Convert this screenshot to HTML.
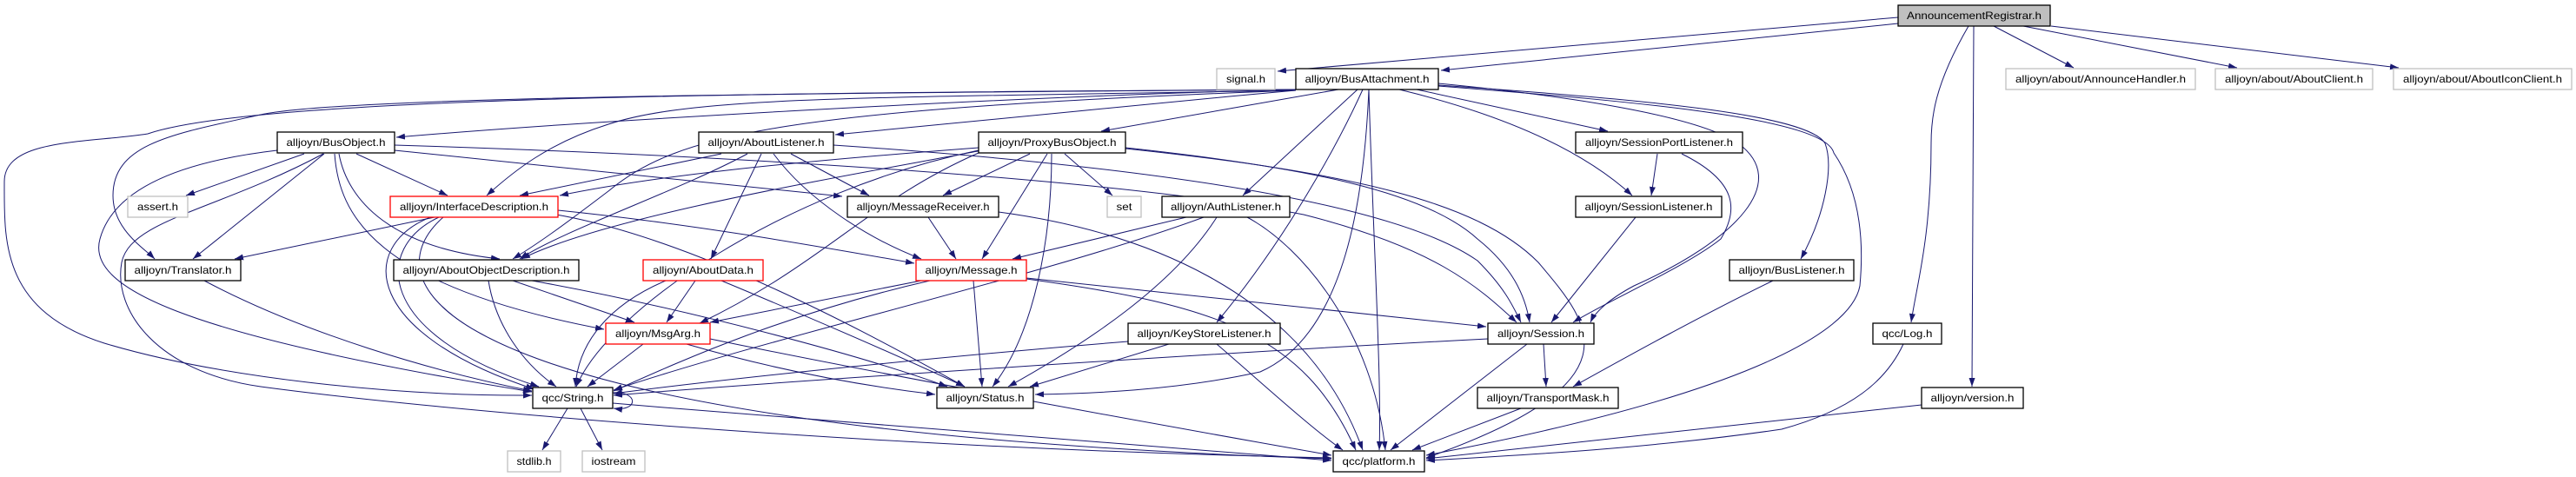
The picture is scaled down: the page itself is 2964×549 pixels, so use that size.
<!DOCTYPE html>
<html><head><meta charset="utf-8"><style>
html,body{margin:0;padding:0;background:#fff;}
svg{display:block;}
text{font-family:"Liberation Sans",Helvetica,sans-serif;font-size:12px;fill:#000;}
</style></head><body>
<svg width="2964" height="549" viewBox="0 0 2964 549" xmlns="http://www.w3.org/2000/svg">
<defs><marker id="a" viewBox="0 0 10 7" refX="10" refY="3.5" markerWidth="10" markerHeight="7" markerUnits="userSpaceOnUse" orient="auto"><path d="M0,0 L10,3.5 L0,7z" fill="#191970"/></marker></defs>
<g fill="none" stroke="#191970" stroke-width="1" marker-end="url(#a)">
<path d="M2184,20 L1470,82"/>
<path d="M2184,27 L1658,81"/>
<path d="M2294,30 L2386,78"/>
<path d="M2328,30 L2574,78"/>
<path d="M2360,30 L2760,78"/>
<path d="M2265,30 C2225,99 2222,137 2222,165 C2222,275 2205,329 2199,371"/>
<path d="M2271,30 L2269,445"/>
<path d="M1491,103 C1200,110 700,137 456,158"/>
<path d="M1491,104 C1300,121 1100,143 961,155"/>
<path d="M1491,104 C1000,113 800,110 700,143 C630,165 590,198 560,225"/>
<path d="M1491,104 C900,126 780,154 700,220 C650,258 620,280 590,298"/>
<path d="M1491,103 C1000,107 400,110 300,132 C200,154 130,165 130,225 C130,264 165,285 178,298"/>
<path d="M1491,103 C900,107 300,110 170,154 C100,165 5,159 5,209 C5,275 0,357 120,395 C250,434 450,456 612,455"/>
<path d="M1540,103 L1267,151"/>
<path d="M1562,103 L1430,225"/>
<path d="M1568,103 C1540,165 1480,275 1400,371"/>
<path d="M1575,103 C1570,220 1550,384 1450,428 C1350,450 1250,453 1191,454"/>
<path d="M1575,103 C1580,275 1590,439 1587,518"/>
<path d="M1630,103 L1850,151"/>
<path d="M1610,103 C1750,137 1830,181 1878,225"/>
<path d="M1655,96 C1800,110 1950,132 2000,165 C2060,209 2000,275 1880,329 C1850,345 1835,360 1830,371"/>
<path d="M1655,98 C1900,115 2080,132 2100,165 C2110,192 2100,247 2072,298"/>
<path d="M1655,99 C1900,118 2100,137 2110,176 C2140,220 2145,275 2140,329 C2130,384 2000,456 1641,524"/>
<path d="M350,177 L214,225"/>
<path d="M410,177 L515,225"/>
<path d="M373,177 L222,298"/>
<path d="M319,173 C200,187 130,220 115,275 C100,329 200,384 612,451"/>
<path d="M372,177 C250,242 150,253 140,302 C130,357 180,428 300,445 C500,472 1000,516 1532,527"/>
<path d="M390,177 C400,231 450,285 575,298"/>
<path d="M385,177 C390,247 430,329 695,379"/>
<path d="M454,173 L969,226"/>
<path d="M454,167 C900,181 1300,209 1500,247 C1650,285 1700,329 1745,371"/>
<path d="M830,177 L598,225"/>
<path d="M860,177 C780,220 650,264 598,298"/>
<path d="M876,177 L818,298"/>
<path d="M890,177 C930,231 1000,275 1060,298"/>
<path d="M910,177 L1000,225"/>
<path d="M959,167 C1300,190 1600,230 1700,300 C1730,330 1740,350 1750,371"/>
<path d="M1126,170 C900,187 750,203 644,225"/>
<path d="M1130,173 C1000,198 700,247 600,298"/>
<path d="M1185,177 L1085,225"/>
<path d="M1205,177 L1130,298"/>
<path d="M1225,177 L1280,225"/>
<path d="M1210,177 C1210,275 1190,384 1142,445"/>
<path d="M1126,173 C900,220 700,357 663,445"/>
<path d="M1126,176 C1000,231 950,302 805,372"/>
<path d="M1295,170 C1500,192 1640,220 1700,275 C1740,307 1755,340 1760,371"/>
<path d="M1295,171 C1550,198 1700,231 1770,302 C1830,373 1890,439 1641,527"/>
<path d="M500,250 L270,298"/>
<path d="M505,250 C430,285 430,384 620,445"/>
<path d="M495,250 C410,285 420,384 615,448"/>
<path d="M510,250 C420,329 500,494 1532,528"/>
<path d="M642,242 C800,258 950,285 1052,303"/>
<path d="M640,247 C800,275 1000,384 1110,445"/>
<path d="M1068,250 L1100,298"/>
<path d="M1149,244 C1300,264 1500,329 1568,518"/>
<path d="M1365,250 L1165,298"/>
<path d="M1385,250 C1200,318 900,384 706,449"/>
<path d="M1400,250 C1350,329 1250,395 1160,445"/>
<path d="M1435,250 C1500,285 1580,384 1594,518"/>
<path d="M1907,177 L1900,225"/>
<path d="M1935,177 C2000,209 2000,242 1980,275 C1940,307 1850,346 1810,371"/>
<path d="M1882,250 L1785,371"/>
<path d="M562,323 C570,373 600,417 640,445"/>
<path d="M590,323 L730,371"/>
<path d="M612,323 C800,357 1000,412 1090,445"/>
<path d="M766,323 C700,351 665,395 662,445"/>
<path d="M800,323 L767,371"/>
<path d="M830,323 C950,373 1050,417 1110,445"/>
<path d="M1060,323 L817,371"/>
<path d="M1070,323 C900,362 780,417 706,450"/>
<path d="M1120,323 L1130,445"/>
<path d="M1181,320 L1710,376"/>
<path d="M1181,321 C1400,351 1500,384 1560,518"/>
<path d="M235,323 C350,384 500,428 612,450"/>
<path d="M740,396 L676,445"/>
<path d="M790,396 C900,428 1000,445 1076,454"/>
<path d="M817,390 C1000,428 1300,483 1532,524"/>
<path d="M1298,393 C1100,409 850,434 706,453"/>
<path d="M1345,396 L1185,445"/>
<path d="M1400,396 C1450,439 1510,494 1545,518"/>
<path d="M1712,390 C1400,406 900,439 706,455"/>
<path d="M1776,396 L1779,445"/>
<path d="M1757,396 L1600,518"/>
<path d="M653,470 L624,518"/>
<path d="M668,470 L693,518"/>
<path d="M705,464 C1000,489 1300,511 1532,530"/>
<path d="M705,452 C735,450 735,474 706,470"/>
<path d="M1750,470 L1625,518"/>
<path d="M2040,323 C1960,362 1880,406 1810,445"/>
<path d="M2190,396 C2170,439 2130,472 2050,494 C1900,516 1750,524 1641,530"/>
<path d="M2211,466 L1641,528"/>
</g>
<g stroke-width="1.3" text-anchor="middle">
<rect x="2184" y="6" width="175" height="24" fill="#bfbfbf" stroke="#000"/><text x="2271.5" y="22" textLength="155" lengthAdjust="spacingAndGlyphs">AnnouncementRegistrar.h</text>
<rect x="1400" y="79" width="67" height="24" fill="#fff" stroke="#bfbfbf"/><text x="1433.5" y="95" textLength="45" lengthAdjust="spacingAndGlyphs">signal.h</text>
<rect x="1491" y="79" width="164" height="24" fill="#fff" stroke="#000"/><text x="1573" y="95" textLength="143" lengthAdjust="spacingAndGlyphs">alljoyn/BusAttachment.h</text>
<rect x="2308" y="79" width="218" height="24" fill="#fff" stroke="#bfbfbf"/><text x="2417" y="95" textLength="196" lengthAdjust="spacingAndGlyphs">alljoyn/about/AnnounceHandler.h</text>
<rect x="2549" y="79" width="181" height="24" fill="#fff" stroke="#bfbfbf"/><text x="2639.5" y="95" textLength="159" lengthAdjust="spacingAndGlyphs">alljoyn/about/AboutClient.h</text>
<rect x="2754" y="79" width="205" height="24" fill="#fff" stroke="#bfbfbf"/><text x="2856.5" y="95" textLength="183" lengthAdjust="spacingAndGlyphs">alljoyn/about/AboutIconClient.h</text>
<rect x="319" y="152" width="135" height="24" fill="#fff" stroke="#000"/><text x="386.5" y="168" textLength="114" lengthAdjust="spacingAndGlyphs">alljoyn/BusObject.h</text>
<rect x="804" y="152" width="155" height="24" fill="#fff" stroke="#000"/><text x="881.5" y="168" textLength="134" lengthAdjust="spacingAndGlyphs">alljoyn/AboutListener.h</text>
<rect x="1126" y="152" width="169" height="24" fill="#fff" stroke="#000"/><text x="1210.5" y="168" textLength="148" lengthAdjust="spacingAndGlyphs">alljoyn/ProxyBusObject.h</text>
<rect x="1813" y="152" width="192" height="24" fill="#fff" stroke="#000"/><text x="1909" y="168" textLength="170" lengthAdjust="spacingAndGlyphs">alljoyn/SessionPortListener.h</text>
<rect x="147" y="226" width="69" height="24" fill="#fff" stroke="#bfbfbf"/><text x="181.5" y="242" textLength="47" lengthAdjust="spacingAndGlyphs">assert.h</text>
<rect x="449" y="226" width="193" height="24" fill="#fff" stroke="#f00"/><text x="545.5" y="242" textLength="171" lengthAdjust="spacingAndGlyphs">alljoyn/InterfaceDescription.h</text>
<rect x="975" y="226" width="174" height="24" fill="#fff" stroke="#000"/><text x="1062" y="242" textLength="153" lengthAdjust="spacingAndGlyphs">alljoyn/MessageReceiver.h</text>
<rect x="1274" y="226" width="39" height="24" fill="#fff" stroke="#bfbfbf"/><text x="1293.5" y="242" textLength="18" lengthAdjust="spacingAndGlyphs">set</text>
<rect x="1337" y="226" width="147" height="24" fill="#fff" stroke="#000"/><text x="1410.5" y="242" textLength="127" lengthAdjust="spacingAndGlyphs">alljoyn/AuthListener.h</text>
<rect x="1813" y="226" width="168" height="24" fill="#fff" stroke="#000"/><text x="1897" y="242" textLength="147" lengthAdjust="spacingAndGlyphs">alljoyn/SessionListener.h</text>
<rect x="144" y="299" width="133" height="24" fill="#fff" stroke="#000"/><text x="210.5" y="315" textLength="112" lengthAdjust="spacingAndGlyphs">alljoyn/Translator.h</text>
<rect x="453" y="299" width="213" height="24" fill="#fff" stroke="#000"/><text x="559.5" y="315" textLength="192" lengthAdjust="spacingAndGlyphs">alljoyn/AboutObjectDescription.h</text>
<rect x="740" y="299" width="138" height="24" fill="#fff" stroke="#f00"/><text x="809" y="315" textLength="116" lengthAdjust="spacingAndGlyphs">alljoyn/AboutData.h</text>
<rect x="1054" y="299" width="127" height="24" fill="#fff" stroke="#f00"/><text x="1117.5" y="315" textLength="106" lengthAdjust="spacingAndGlyphs">alljoyn/Message.h</text>
<rect x="1990" y="299" width="143" height="24" fill="#fff" stroke="#000"/><text x="2061.5" y="315" textLength="122" lengthAdjust="spacingAndGlyphs">alljoyn/BusListener.h</text>
<rect x="697" y="372" width="120" height="24" fill="#fff" stroke="#f00"/><text x="757" y="388" textLength="98" lengthAdjust="spacingAndGlyphs">alljoyn/MsgArg.h</text>
<rect x="1298" y="372" width="175" height="24" fill="#fff" stroke="#000"/><text x="1385.5" y="388" textLength="154" lengthAdjust="spacingAndGlyphs">alljoyn/KeyStoreListener.h</text>
<rect x="1712" y="372" width="122" height="24" fill="#fff" stroke="#000"/><text x="1773" y="388" textLength="100" lengthAdjust="spacingAndGlyphs">alljoyn/Session.h</text>
<rect x="2155" y="372" width="79" height="24" fill="#fff" stroke="#000"/><text x="2194.5" y="388" textLength="58" lengthAdjust="spacingAndGlyphs">qcc/Log.h</text>
<rect x="613" y="446" width="92" height="24" fill="#fff" stroke="#000"/><text x="659" y="462" textLength="71" lengthAdjust="spacingAndGlyphs">qcc/String.h</text>
<rect x="1078" y="446" width="111" height="24" fill="#fff" stroke="#000"/><text x="1133.5" y="462" textLength="90" lengthAdjust="spacingAndGlyphs">alljoyn/Status.h</text>
<rect x="1700" y="446" width="162" height="24" fill="#fff" stroke="#000"/><text x="1781" y="462" textLength="141" lengthAdjust="spacingAndGlyphs">alljoyn/TransportMask.h</text>
<rect x="2211" y="446" width="117" height="24" fill="#fff" stroke="#000"/><text x="2269.5" y="462" textLength="96" lengthAdjust="spacingAndGlyphs">alljoyn/version.h</text>
<rect x="584" y="519" width="61" height="24" fill="#fff" stroke="#bfbfbf"/><text x="614.5" y="535" textLength="40" lengthAdjust="spacingAndGlyphs">stdlib.h</text>
<rect x="670" y="519" width="72" height="24" fill="#fff" stroke="#bfbfbf"/><text x="706" y="535" textLength="51" lengthAdjust="spacingAndGlyphs">iostream</text>
<rect x="1534" y="519" width="105" height="24" fill="#fff" stroke="#000"/><text x="1586.5" y="535" textLength="84" lengthAdjust="spacingAndGlyphs">qcc/platform.h</text>
</g>
</svg>
</body></html>
